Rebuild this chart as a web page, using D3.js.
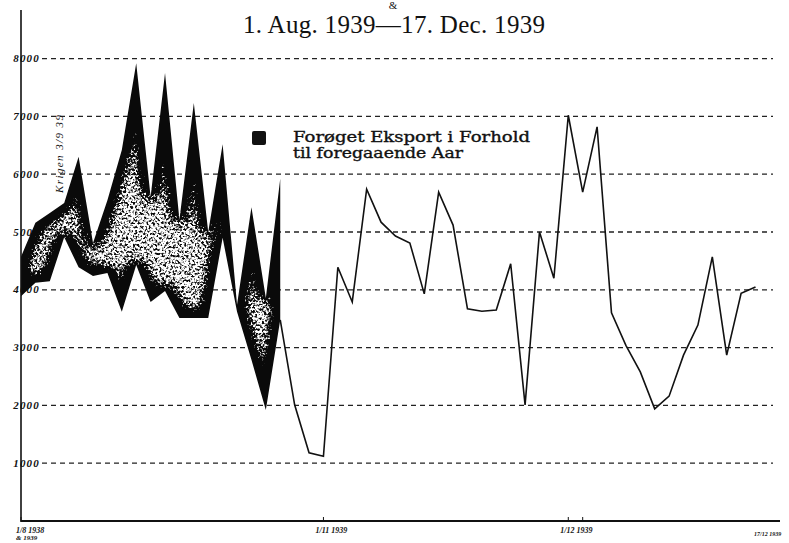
<!DOCTYPE html>
<html>
<head>
<meta charset="utf-8">
<script src="https://cdn.jsdelivr.net/npm/d3@7"></script>
<style>
body { margin: 0; background: #fff; }
svg { display: block; }
</style>
</head>
<body>
<div id="chart"></div>
<script>
const width = 789,
    height = 543;

// top edge of the black band (first 19 observations)
const bandTop = [4570, 5160, 5330, 5500, 6300, 4810, 5550, 6420, 7920, 5610, 7750, 5210, 7230, 5000, 6520, 3740, 5430, 3860, 5920];

// export line: bottom edge of the band, then the single line to the end
const exportLine = [3890, 4120, 4150, 4910, 4390, 4240, 4290, 3620, 4430, 3790, 3980, 3510, 3510, 3510, 4900, 3620, 2790, 1920, 3480,
    2010, 1180, 1120, 4390, 3790, 5740, 5170, 4930, 4810, 3930, 5690, 5120, 3670, 3630, 3650, 4450, 2010, 5000, 4200, 7020, 5690,
    6820, 3600, 3040, 2580, 1940, 2160, 2870, 3390, 4570, 2870, 3940, 4050];

const yTicks = [1000, 2000, 3000, 4000, 5000, 6000, 7000, 8000];
const yTickLabels = ["1000", "2000", "3000", "4000", "5000", "6000", "7000", "8000"];

const xTickPos = [0, 21, 38, 39];
const xTickLabels = ["1/8 1938", "1/11 1939", "1/12 1939", ""];
const xEnd = 52.7;
const xEndLabel = "17/12 1939";

const title = "1. Aug. 1939\u201417. Dec. 1939";
const legendLines = ["For\u00f8get Eksport i Forhold", "til foregaaende Aar"];
const note = "Krigen 3/9 39";

var x = d3.scaleLinear().domain([0, xEnd]).range([21, 780]);
var y = d3.scaleLinear().domain([0, 8000]).range([521, 58.6]);

var svg = d3.select("#chart").append("svg")
    .attr("width", width)
    .attr("height", height);

// speckled interior for the band, black near its edges
var defs = svg.append("defs");
var f = defs.append("filter")
    .attr("id", "speck")
    .attr("x", "-5%").attr("y", "-5%").attr("width", "110%").attr("height", "110%")
    .attr("color-interpolation-filters", "sRGB");
f.append("feMorphology").attr("in", "SourceAlpha").attr("operator", "erode").attr("radius", 2).attr("result", "er");
f.append("feGaussianBlur").attr("in", "er").attr("stdDeviation", 7).attr("result", "bl");
f.append("feColorMatrix").attr("in", "bl").attr("type", "matrix")
    .attr("values", "0 0 0 0 1  0 0 0 0 1  0 0 0 0 1  0 0 0 1 0").attr("result", "blw");
f.append("feTurbulence").attr("type", "fractalNoise").attr("baseFrequency", 0.45)
    .attr("numOctaves", 2).attr("seed", 7).attr("result", "noise");
f.append("feColorMatrix").attr("in", "noise").attr("type", "matrix")
    .attr("values", "0 0 0 0 1  0 0 0 0 1  0 0 0 0 1  1 0 0 0 0").attr("result", "nw");
f.append("feComposite").attr("in", "nw").attr("in2", "blw").attr("operator", "arithmetic")
    .attr("k1", 0).attr("k2", 1).attr("k3", 1.3).attr("k4", -1.17).attr("result", "mix");
var ct = f.append("feComponentTransfer").attr("in", "mix").attr("result", "thr");
ct.append("feFuncA").attr("type", "linear").attr("slope", 5).attr("intercept", -2.3);
f.append("feComposite").attr("in", "thr").attr("in2", "SourceAlpha").attr("operator", "in").attr("result", "clip");
var fm = f.append("feMerge");
fm.append("feMergeNode").attr("in", "SourceGraphic");
fm.append("feMergeNode").attr("in", "clip");

// grid lines
svg.append("g").selectAll("line").data(yTicks)
    .join("line")
    .attr("x1", 42)
    .attr("x2", 773)
    .attr("y1", d => y(d))
    .attr("y2", d => y(d))
    .attr("stroke", "#222")
    .attr("stroke-width", 1.3)
    .attr("stroke-dasharray", "5,4");

// y labels
svg.append("g").selectAll("text").data(yTicks)
    .join("text")
    .attr("x", 40)
    .attr("y", d => y(d) + 3.5)
    .attr("text-anchor", "end")
    .attr("font-family", "Liberation Serif")
    .attr("font-style", "italic")
    .attr("font-weight", "bold")
    .attr("font-size", 11)
    .attr("letter-spacing", 1.2)
    .attr("fill", "#111")
    .text((d, i) => yTickLabels[i]);

// band
var band = d3.area()
    .x((d, i) => x(i))
    .y0((d, i) => y(exportLine[i]))
    .y1(d => y(d));

svg.append("path")
    .datum(bandTop)
    .attr("d", band)
    .attr("fill", "#0a0a0a")
    .attr("filter", "url(#speck)");

// single line after the band
var line = d3.line()
    .x(d => x(d[0]))
    .y(d => y(d[1]));

var rest = exportLine.map((v, i) => [i, v]).filter(d => d[0] >= bandTop.length - 1);
svg.append("path")
    .datum(rest)
    .attr("d", line)
    .attr("fill", "none")
    .attr("stroke", "#111")
    .attr("stroke-width", 1.6)
    .attr("stroke-linejoin", "miter");

// axes
svg.append("line")
    .attr("x1", x(0)).attr("x2", x(0))
    .attr("y1", 10).attr("y2", y(0) + 1)
    .attr("stroke", "#111").attr("stroke-width", 1.6);

svg.append("line")
    .attr("x1", x(0)).attr("x2", x(xEnd))
    .attr("y1", y(0)).attr("y2", y(0))
    .attr("stroke", "#111").attr("stroke-width", 2.2);

svg.append("g").selectAll("line").data(xTickPos)
    .join("line")
    .attr("x1", d => x(d)).attr("x2", d => x(d))
    .attr("y1", y(0) - 4).attr("y2", y(0))
    .attr("stroke", "#111").attr("stroke-width", 1);

svg.append("g").selectAll("text").data(xTickPos)
    .join("text")
    .attr("x", (d, i) => i == 0 ? x(d) - 5 : x(d) - 8)
    .attr("y", 533)
    .attr("font-family", "Liberation Serif")
    .attr("font-style", "italic")
    .attr("font-weight", "bold")
    .attr("font-size", 8)
    .attr("fill", "#111")
    .text((d, i) => xTickLabels[i]);

svg.append("text")
    .attr("x", x(0) - 5)
    .attr("y", 540)
    .attr("font-family", "Liberation Serif")
    .attr("font-style", "italic")
    .attr("font-weight", "bold")
    .attr("font-size", 7)
    .attr("fill", "#111")
    .text("& 1939");

svg.append("text")
    .attr("x", x(xEnd) - 26)
    .attr("y", 536)
    .attr("font-family", "Liberation Serif")
    .attr("font-style", "italic")
    .attr("font-weight", "bold")
    .attr("font-size", 6)
    .attr("fill", "#111")
    .text(xEndLabel);

// title
svg.append("text")
    .attr("x", 393)
    .attr("y", 9)
    .attr("text-anchor", "middle")
    .attr("font-family", "Liberation Serif")
    .attr("font-size", 11)
    .attr("fill", "#111")
    .text("&");

svg.append("text")
    .attr("x", 243)
    .attr("y", 33)
    .attr("font-family", "Liberation Serif")
    .attr("font-size", 25)
    .attr("textLength", 302)
    .attr("lengthAdjust", "spacing")
    .attr("fill", "#111")
    .text(title);

// legend
svg.append("rect")
    .attr("x", 252).attr("y", 131)
    .attr("width", 14).attr("height", 14)
    .attr("rx", 2)
    .attr("fill", "#111");

svg.append("g").selectAll("text").data(legendLines)
    .join("text")
    .attr("x", 293)
    .attr("y", (d, i) => 142 + i * 15.5)
    .attr("font-family", "DejaVu Serif")
    .attr("font-size", 14)
    .attr("textLength", (d, i) => i == 0 ? 237 : 170)
    .attr("lengthAdjust", "spacingAndGlyphs")
    .attr("fill", "#111")
    .attr("stroke", "#111")
    .attr("stroke-width", 0.35)
    .text(d => d);

// note on the war
svg.append("text")
    .attr("transform", "translate(63,193) rotate(-90)")
    .attr("font-family", "Liberation Serif")
    .attr("font-style", "italic")
    .attr("font-size", 11)
    .attr("textLength", 78)
    .attr("fill", "#111")
    .text(note);
</script>
</body>
</html>
